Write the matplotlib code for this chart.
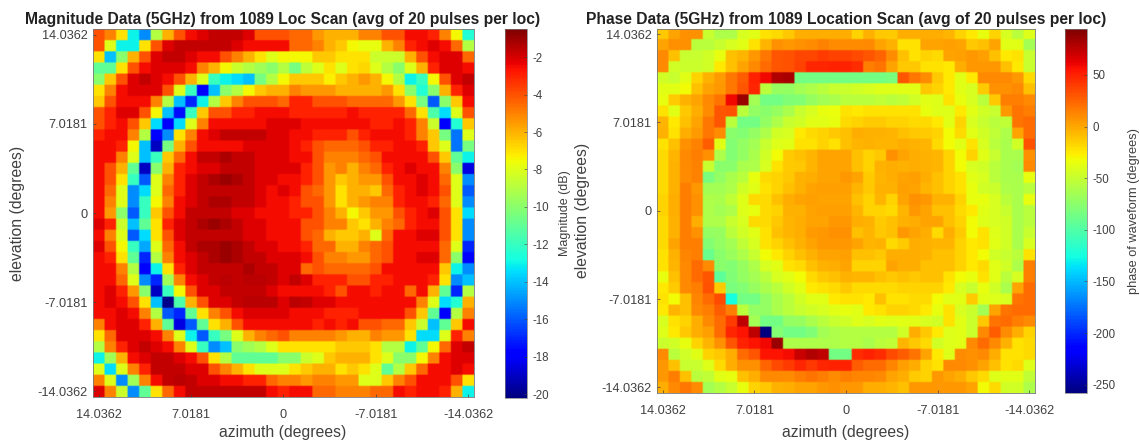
import numpy as np
import matplotlib
matplotlib.use("Agg")
import matplotlib.pyplot as plt

plt.rcParams['font.family'] = ['Liberation Sans', 'DejaVu Sans']
plt.rcParams['axes.unicode_minus'] = False

W, H = 1140, 445

# Magnitude loss per cell (dB below 0), top row first, left column first
magnitude_loss = [
[4,5,7,13,15,9,6,4,3,2.5,2,2,2,2.5,4,4,4,4.5,4.5,5.5,6,6,6,5,5,4,4,3,3,3.5,5,7.5,12.5],
[4,8,13,13,7,4,2.5,2,2,2,2,2,2.5,3,3,3,3,4.5,4.5,5,6,6.5,7.5,7.8,7.8,6,5,3.5,3,2.5,3,4.5,9],
[7,14,10,6,4,2.5,2,2,2.5,3,3,4,5,6,7,8,7.5,7.5,7.5,6.5,6.5,7,7,7,8.5,8.5,8.5,6,4,3,2.5,2.5,4.5],
[11,11,7,4,3,2.5,2.5,2.5,3,5,6,7.5,8.5,9,9.5,10,9,10.5,8.8,8,7,8,7,6.8,8,9,10,8,6,3.5,2.5,2.5,3],
[10,6.5,4,2.5,2,2.5,3,4,6,8,12,13,13.5,14,10.5,9,7.5,6.5,6.5,6.5,7.3,6.5,6,5.5,6,7.5,9,13,12,7.5,4,2.5,2],
[7,5,3,2.5,2.5,2.5,4,8,12,18,14,10,9,7.5,6.5,6,6,5,5.5,5.5,5.5,6,6,6,6,5.5,7,10,12.5,10,6,3.5,2.5],
[6.5,4,3,3,3,5,9,14,17,13,9,6.5,5,4,4,4,4.5,3.5,3.5,4,4,4,4.5,4.5,4.5,4.5,5.5,7,10.5,16,10,6.5,3],
[4,3.5,2.5,2.5,4,7.5,14,17.5,12,6.5,4,4,3.5,3.5,3,3,3,3.5,3.5,3.5,3.5,3.5,3,3.5,3.5,3.5,3.5,4.5,7,11.5,13.5,8,4],
[4,3.5,3,4,6.5,13.5,18,13.5,8,5,3,3,3,3,3,2.5,2.5,2.5,3,3,3,3,3,3,3.5,3.5,3,3.5,5,8.5,18,12.5,6.5],
[3.5,3,3,5,9,18,15,7,5,3,2.5,2,2,2,2,2.5,2.5,3,3,3.5,3.5,3.5,4,3.5,3,3,3,3.5,5,6.5,10.5,15.5,8],
[3,3,3.5,7.5,14,19,10.5,6,4,3,3,3,3,2.5,2.5,2.5,2.5,3,3.5,4,4.5,4.5,4.5,4,3.5,3.5,3,3,3.5,6.5,8,15.5,10.5],
[3,3,5,8,14,12,6.5,4.5,3,2,2,1.5,2,2,2.5,2.5,2.5,3,3,4,5,5,5,4.5,4,3,3,3,3,4,6.5,11,13],
[3,4,6,11,19,10,6,3.5,3,2.5,2.5,2,2,2,2.5,2.5,2.5,2.5,3.5,4,5.5,5,6,5,4.5,3.5,3,2.5,3,3,5,10,18.5],
[3,4,7,12,16,8,5,3.5,2.5,2,1.5,1.2,1.5,2,2.5,2.5,3,3,3.5,4,5.5,6.5,6,5.5,5.5,4,3,3,2.5,3,4.5,8,15],
[3,4.5,8,15,13.5,8,4.5,3.5,2.5,2,2,2,2,2,2.5,3,2.5,3,4,4.5,5.5,7,6,6,6.5,4.5,3.5,3,2.5,3,4,8,16],
[3,5,8,15,12,7.5,5,3,2.5,2,1.5,1.5,2,2,2.5,3,3,3.5,4,4,5.5,7,6,5.5,5,5,3.5,3,3,3.5,4.5,8,15],
[3,5.5,10,16,12,6.5,4,3,2,2,2,2,2.5,2.5,3,3,3,3.5,3.5,4,5,6,7.5,6.5,5.5,5.5,4,3.5,3,2.5,4,7,13.5],
[2.5,3.5,8.5,14,11,7,3.5,2.5,2,1.5,1.2,1.5,2,2.5,2.5,3,3,3,4,4,5,5,6.5,7,6,5,4.5,3.5,3,3,4,7,15],
[3,5,8,16,13.5,7,4,2.5,2,2,2,2,2,2.5,2.5,3,3,3,4,4.5,6,6.5,6.5,6,8,4.5,3,3,2.5,2.5,4,7,15],
[2.5,4,7.5,12,14.5,8,4.5,3,2,1.5,1.5,1.2,1.5,2,2.5,2.5,3,3,3.5,4.5,4.5,6,6,5,4.5,4,3,3,3,3,4.5,8,17],
[3,3.5,7,11,17,9,5,3,2.5,2,1.5,1.2,1.5,2,2,2.5,2.5,2.5,3,4,5,5,5.5,5.5,4.5,4,3,3,2.5,2.5,4.5,10,18],
[3,3,5,9,18,13,7,3.5,2.5,2,2,2,2,1.5,2,2,2.5,2.5,4.5,4,4.5,4.5,4.5,4.5,4,3,3,3,3,3,6.5,13,15],
[3,3,4.5,8,15,17,9.5,5,3,2.5,2,1.8,2,1.8,1.8,2,2.5,2,2.5,3.5,3.5,3.5,4,4,3.5,3.5,3,3,3,3.5,7,15,14],
[3,2.5,3.5,5.5,10,19,12,7.5,4,2.5,2.5,2,2,2,2,2.5,3,3,3,3,3.5,4,3,3,3.5,3,3,4.5,3,6,11,17,9],
[3,2.5,3,4,7,14,20,11.5,6,4,2.5,2.5,2,1.8,1.8,1.8,2.5,1.8,2,2.5,2.5,3,3,3,3,3,3,3,5,8,13.5,12.5,6],
[3,3,2.5,3,5,9,16,17,11,7,5,4,3,2.5,2.5,2.5,2.5,3,3,3,3.5,3.5,3.5,3,3,3,3,4,6.5,11,18,9,5],
[5,3,2.5,2.5,3.5,6,11,18.5,16,11,7,6,4,3,3,3,3,3,3,3.5,3,3.5,3,4,4,4.5,4.5,6.5,8.5,14,11,6.5,3],
[7,4.5,2.5,2.5,2.5,3,5,8,13,16,12,10.5,8,6,5,4.5,4,5,5,5,5,5.5,6,6,5,5.5,5.5,7,13.5,13.5,8,3.5,5],
[9,5,3.5,2.5,2,2.5,3,5,8,12,15,14,10,9.5,9,8,7,7,7,7,7,6.5,6.5,6.5,7,9,9,13,11,7.5,4.5,2.5,2],
[13,9.5,6,3,2.5,2,2,2.5,3,4,7,9,11,11,11,11,10,10,8.5,8,6.5,6,6,6,7,8,10,10,7.5,5,3,2.5,2.5],
[8,13.5,8,5,3.5,2,2,2,2.5,2.5,4,5,6,7,8,8,8,7,6.5,6,6,7,6.5,7,8,11,9,6.5,4.5,3,3,2.5,3],
[5,8,15,9.5,5,3,2,1.8,2,2.5,2.5,3,3,3.5,3.5,4.5,5,5,5.5,5,5,5.5,5.5,8,8,6.5,5,4,3,3,3,4,7],
[2.5,5,8.5,15,11,7,4.5,3,2,2,2,2,2,2,2,3,3.5,3,3,4.5,4.5,5,5,5,4.5,4.5,3,3.5,3,3,3.5,6,13],
]

# Phase per cell (degrees), top row first, left column first
phase_deg = [
[-18,-5,8,8,-50,-60,-60,-42,-38,-28,-25,-18,-8,-8,-8,-8,-8,-22,-10,-18,-20,-8,-8,-8,-8,-12,-22,-30,-35,-22,-42,-55,-40],
[-5,8,8,-55,-55,-50,-42,-38,-28,-12,2,0,3,10,14,10,10,10,5,-5,-10,-28,-28,-5,-5,-3,-5,-18,-15,-5,-38,-38,-65],
[5,-15,-50,-50,-45,-35,-15,-12,0,18,30,32,36,36,40,38,38,35,30,25,10,-15,-28,-22,-25,-5,-3,0,-3,-15,-30,-28,-50],
[5,-45,-48,-48,-45,-30,-15,-5,5,22,30,32,38,48,48,50,50,45,15,20,-5,-18,-18,-28,-28,-30,-8,0,0,0,-15,-30,-50],
[-45,-50,-38,-22,-10,-2,18,28,50,60,78,82,-85,-85,-85,-85,-85,-85,-85,-85,-82,30,18,10,-18,-30,-38,-30,5,5,5,0,-25],
[-38,-38,-32,-15,-5,0,18,30,48,-55,-70,-72,-65,-60,-55,-50,-48,-45,-42,-40,-40,-38,-38,-18,-22,-30,-38,-42,-20,8,8,5,-15],
[-35,-20,-10,-5,5,20,60,85,-65,-85,-85,-80,-78,-70,-65,-62,-55,-55,-55,-52,-55,-52,-45,-38,-40,-28,-35,-42,-55,-18,15,15,5],
[-28,-38,-18,-8,10,30,32,-55,-72,-75,-70,-62,-50,-42,-36,-34,-28,-30,-28,-28,-28,-28,-28,-36,-40,-40,-30,-38,-45,-50,0,20,15],
[-12,-30,-15,-5,18,30,-55,-85,-85,-72,-60,-50,-45,-38,-38,-35,-25,-22,-20,-20,-22,-22,-25,-25,-30,-38,-22,-42,-50,-55,-52,20,22],
[-10,-28,-8,-2,18,10,-75,-78,-72,-60,-45,-42,-30,-25,-22,-18,-15,-8,-10,-10,-12,-15,-18,-20,-22,-32,-25,-38,-45,-52,-60,-5,22],
[-28,-15,3,14,28,-38,-78,-72,-65,-50,-40,-38,-28,-28,-22,-28,-15,-12,-10,-12,-12,-8,-10,-12,-25,-32,-38,-28,-42,-55,-62,-45,32],
[-25,-12,5,15,8,-60,-78,-72,-62,-45,-32,-20,-15,-12,-5,-5,-5,-15,-22,-18,3,-5,-8,-10,-12,-22,-32,-22,-38,-50,-62,-62,8],
[-25,-10,10,14,-50,-75,-75,-62,-60,-42,-28,-20,-18,-12,-5,-5,-5,-15,-22,-10,-8,-10,-8,-10,-12,-22,-32,-42,-45,-55,-62,-65,5],
[-25,-10,10,14,-82,-72,-62,-55,-35,-25,-22,-18,-10,-8,-5,-5,0,-5,-20,-12,-8,-5,-3,-8,-15,-22,-28,-38,-42,-55,-62,-62,-35],
[-25,-10,15,0,-65,-65,-60,-45,-38,-28,-22,-15,-10,-5,-3,-3,-3,-12,-18,-10,-10,-3,-5,-12,-15,-22,-28,-35,-45,-48,-60,-62,-55],
[-22,-8,15,3,-60,-62,-52,-40,-25,-25,-15,-8,-5,-3,-5,-5,-5,-15,-22,-12,-22,-5,3,0,-10,-10,-22,-35,-35,-42,-55,-62,-35],
[-22,-8,15,3,-60,-65,-60,-40,-35,-25,-22,-10,-10,-5,-3,-3,-3,-12,-22,-22,-25,-12,0,-5,-15,-15,-25,-30,-38,-42,-50,-62,-55],
[-25,-10,15,-8,-60,-60,-50,-42,-25,-25,-18,-12,-8,-5,-5,0,0,-8,-10,-20,-15,-10,-8,-5,-5,-15,-22,-32,-40,-42,-45,-62,-55],
[-25,-10,15,3,-72,-70,-55,-45,-38,-28,-15,-12,-8,-2,0,3,3,-15,-12,-18,-15,0,-5,-8,-25,-8,-20,-32,-28,-40,-45,-62,-50],
[-25,-5,15,15,-78,-72,-65,-52,-42,-28,-22,-15,-10,-5,0,0,0,-5,-12,-10,-25,-20,-8,-10,-12,-12,-22,-30,-28,-38,-45,-62,-42],
[-28,-10,12,15,-90,-75,-68,-60,-50,-32,-30,-22,-15,-10,-5,-5,-3,-15,-15,-18,-8,-8,-8,-10,-15,-15,-22,-30,-32,-45,-50,-55,-28],
[-28,-12,5,22,5,-75,-78,-70,-60,-42,-38,-28,-25,-15,-10,-8,-5,-22,-22,-22,-5,-8,-8,-15,-15,-15,-22,-30,-25,-38,-45,-60,15],
[-35,-15,5,22,30,-95,-80,-72,-65,-55,-42,-38,-32,-25,-18,-15,-10,-12,-12,-15,-18,-15,-18,-15,-15,-28,-32,-35,-28,-38,-55,-42,15],
[-30,-20,5,15,32,-20,-82,-78,-70,-62,-55,-45,-38,-30,-28,-25,-18,-25,-25,-25,-25,-22,-22,-22,-22,-30,-42,-50,-35,-45,-62,-5,22],
[-28,-32,-15,12,22,35,-125,-85,-85,-72,-62,-55,-45,-38,-38,-30,-28,-28,-30,-15,-28,-28,-25,-25,-32,-38,-38,-20,-38,-40,-42,20,22],
[-30,-12,-15,5,15,28,15,-55,-72,-72,-62,-55,-50,-45,-42,-38,-35,-38,-30,-28,-22,-22,-25,-30,-35,-28,-42,-48,-65,-5,20,22,22],
[-42,-28,-22,-8,5,22,40,75,-65,-85,-85,-72,-70,-62,-55,-50,-45,-40,-42,-38,-40,-38,-38,-42,-45,-28,-38,-48,-18,20,22,15,5],
[-40,-30,-18,-8,-3,22,48,55,75,-258,-78,-85,-85,-80,-65,-60,-58,-58,-58,-58,-58,-45,-8,-18,-30,-40,-38,-48,5,28,10,-8,-22],
[-48,-45,-35,-22,-12,8,30,50,55,60,85,-60,-60,-60,-60,-60,-58,-58,-62,-55,-52,-12,-18,-25,-45,-40,-38,5,22,5,-10,-28,-25],
[5,-55,-45,-38,-22,-18,-8,22,30,55,55,58,72,78,75,-85,-85,45,50,45,35,28,20,-5,-30,-40,10,8,5,-8,-28,-28,-25],
[0,-15,-50,-50,-40,-25,-8,8,8,25,35,40,48,42,48,50,50,28,22,22,12,-3,-8,-22,-28,5,5,3,-5,-15,-28,-25,-40],
[0,15,-15,-55,-52,-38,-35,-15,-8,5,5,10,15,20,15,10,15,12,12,5,-5,-8,-20,-22,0,-5,-8,-18,-25,-40,-38,-38,-52],
[-8,5,18,5,-65,-58,-50,-35,-22,-18,-10,-8,-5,-5,0,3,0,0,-8,-8,-12,-15,0,0,0,0,0,-5,-32,-25,-45,-45,-60],
]

angle_labels = ["14.0362", "7.0181", "0", "-7.0181", "-14.0362"]
angle_ticks = [14.0362, 7.0181, 0, -7.0181, -14.0362]
magnitude_ticks = [-2, -4, -6, -8, -10, -12, -14, -16, -18, -20]
phase_ticks = [50, 0, -50, -100, -150, -200, -250]
titles = ["Magnitude Data (5GHz) from 1089 Loc Scan (avg of 20 pulses per loc)",
          "Phase Data (5GHz) from 1089 Location Scan (avg of 20 pulses per loc)"]

GRAY = '#404040'
SOFT = 5  # sub-cells per cell, softens the cell edges as in the reference


def box(x0, y0, x1, y1):
    return [x0 / W, 1 - y1 / H, (x1 - x0) / W, (y1 - y0) / H]


def panel(fig, data, vmin, vmax, ax_box, cb_box, title, title_x, cb_ticks, cb_label,
          cb_label_x, cb_label_size, ylabel_x, az_x):
    ax = fig.add_axes(box(*ax_box))
    half = 14.0362 / 32
    lim = 14.0362 + half
    grid = np.array(data, dtype=float)
    soft = np.repeat(np.repeat(grid, SOFT, axis=0), SOFT, axis=1)
    im = ax.imshow(soft, cmap='jet', vmin=vmin, vmax=vmax,
                   extent=[lim, -lim, -lim, lim], aspect='auto', interpolation='hanning',
                   interpolation_stage='rgba')
    ax.set_xticks(angle_ticks, angle_labels)
    ax.set_yticks(angle_ticks, angle_labels)
    ax.tick_params(direction='in', length=2.5, width=0.5, color=GRAY, labelcolor=GRAY,
                   labelsize=9.2, pad=4)
    ax.tick_params(axis='x', pad=9)
    for s in ax.spines.values():
        s.set_color('#777777')
        s.set_linewidth(0.6)
    fig.text(title_x / W, 1 - 19.5 / H, title, fontsize=11.25, fontweight='bold', color='#222222',
             ha='center', va='center')
    fig.text(ylabel_x / W, 1 - (ax_box[1] + ax_box[3]) / 2 / H, 'elevation (degrees)', fontsize=11.3,
             color=GRAY, rotation=90, ha='center', va='center')
    fig.text(az_x / W, 1 - 433 / H, 'azimuth (degrees)', fontsize=11.3, color=GRAY,
             ha='center', va='center')
    cax = fig.add_axes(box(*cb_box))
    cb = fig.colorbar(im, cax=cax)
    cb.set_ticks(cb_ticks)
    cax.tick_params(direction='in', length=2, width=0.4, color=GRAY, labelcolor=GRAY,
                    labelsize=8.3, pad=4)
    cb.outline.set_edgecolor('#777777')
    cb.outline.set_linewidth(0.5)
    fig.text(cb_label_x / W, 1 - (cb_box[1] + cb_box[3]) / 2 / H, cb_label, fontsize=cb_label_size,
             color=GRAY, rotation=90, ha='center', va='center')


# Colour-reading correction: my reds and oranges were read slightly too light
loss = np.array(magnitude_loss, dtype=float)
loss = np.where(loss <= 3.5, loss * 0.85, loss)
phase = np.array(phase_deg, dtype=float)
phase = np.where((phase >= -30) & (phase <= 5), phase + 6, phase)

fig = plt.figure(figsize=(W / 100, H / 100), dpi=100)
panel(fig, -loss, -20.2, -0.5, (93, 29, 474, 397), (505, 29, 527, 398),
      titles[0], 283, magnitude_ticks, 'Magnitude (dB)', 565, 9.0, 18, 283)
panel(fig, phase, -258, 94.5, (657, 28.5, 1035, 393), (1065, 29, 1087, 393),
      titles[1], 846, phase_ticks, 'phase of waveform (degrees)', 1134, 9.2, 583, 846)
fig.savefig('out.png', dpi=100)
